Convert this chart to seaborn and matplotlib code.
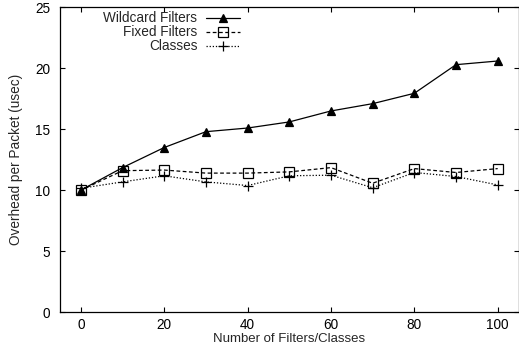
import matplotlib
matplotlib.use("Agg")
import matplotlib.pyplot as plt
import seaborn as sns
import pandas as pd

x_values = [0, 10, 20, 30, 40, 50, 60, 70, 80, 90, 100]
wildcard = [10.0, 11.85, 13.5, 14.8, 15.1, 15.6, 16.5, 17.1, 17.95, 20.3, 20.6]
fixed = [10.0, 11.6, 11.65, 11.4, 11.4, 11.5, 11.85, 10.57, 11.77, 11.45, 11.77]
classes = [10.15, 10.68, 11.18, 10.68, 10.38, 11.18, 11.23, 10.2, 11.45, 11.12, 10.43]
series_names = ["Wildcard Filters", "Fixed Filters", "Classes"]

sns.set_style("ticks")
plt.rcParams["font.family"] = ["Liberation Sans", "DejaVu Sans"]

df = pd.concat([
    pd.DataFrame({"x": x_values, "y": vals, "series": name})
    for name, vals in zip(series_names, [wildcard, fixed, classes])
])

fig = plt.figure(figsize=(5.19, 3.54), dpi=100)
ax = fig.add_axes([0.1156, 0.1186, 0.8835, 0.8605])

styles = {
    "Wildcard Filters": dict(linestyle="-", marker="^", markerfacecolor="black", markersize=6),
    "Fixed Filters": dict(linestyle=(0, (3, 2)), marker="s", markerfacecolor="none", markersize=7),
    "Classes": dict(linestyle=(0, (1, 1.5)), marker="+", markerfacecolor="none", markersize=7),
}
for name in series_names:
    sub = df[df["series"] == name]
    sns.lineplot(data=sub, x="x", y="y", ax=ax, color="black", linewidth=0.9,
                 markeredgecolor="black", markeredgewidth=0.9, label=name,
                 **styles[name])

fs = 9.8
ax.set_xlim(-5, 105)
ax.set_ylim(0, 25)
ax.set_xticks(range(0, 101, 20))
ax.set_yticks(range(0, 26, 5))
ax.tick_params(direction="in", top=True, right=True, length=3.5, width=0.8,
               labelsize=fs, colors="black")
ax.tick_params(axis="x", pad=4.5)
ax.tick_params(axis="y", pad=7)
for s in ax.spines.values():
    s.set_linewidth(0.9)
    s.set_color("black")
ax.set_xlabel("Number of Filters/Classes", fontsize=9.5, labelpad=0.8)
ax.set_ylabel("Overhead per Packet (usec)", fontsize=fs, labelpad=9)

leg = ax.legend(loc="upper left", bbox_to_anchor=(0.077, 1.014), frameon=False,
                markerfirst=False, fontsize=fs, handlelength=2.5,
                labelspacing=0.0, handletextpad=0.6, borderaxespad=0.2)
for t in leg.get_texts():
    t.set_ha("right")
leg._legend_box.align = "right"

fig.savefig("out.png", dpi=100)
